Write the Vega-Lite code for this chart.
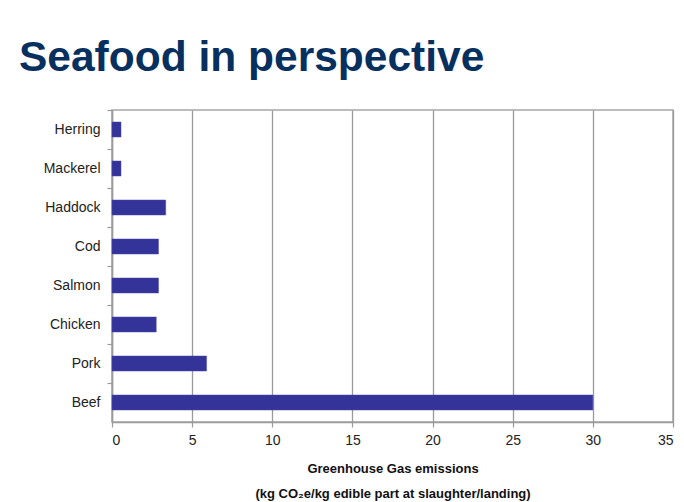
{
  "$schema": "https://vega.github.io/schema/vega-lite/v6.json",
  "width": 561,
  "height": 312,
  "autosize": {"type": "none"},
  "padding": {"left": 112, "top": 110, "right": 11, "bottom": 80},
  "background": "white",
  "title": {
    "text": "Seafood in perspective",
    "anchor": "start",
    "frame": "group",
    "dx": -93,
    "dy": 44,
    "offset": 40,
    "baseline": "alphabetic",
    "font": "Liberation Sans",
    "fontSize": 42.5,
    "fontWeight": "bold",
    "color": "#07305f"
  },
  "data": {
    "values": [
      {"food": "Herring", "emissions": 0.56},
      {"food": "Mackerel", "emissions": 0.56},
      {"food": "Haddock", "emissions": 3.35},
      {"food": "Cod", "emissions": 2.9},
      {"food": "Salmon", "emissions": 2.9},
      {"food": "Chicken", "emissions": 2.76},
      {"food": "Pork", "emissions": 5.9},
      {"food": "Beef", "emissions": 30}
    ]
  },
  "mark": {"type": "bar", "height": {"band": 0.385}, "color": "#333399", "stroke": "#4a4aa8", "strokeWidth": 0.5},
  "encoding": {
    "y": {
      "field": "food",
      "type": "nominal",
      "sort": ["Herring", "Mackerel", "Haddock", "Cod", "Salmon", "Chicken", "Pork", "Beef"],
      "scale": {"paddingInner": 0, "paddingOuter": 0},
      "axis": {
        "title": null,
        "bandPosition": 0,
        "tickSize": 5,
        "tickColor": "#9a9a9a",
        "tickWidth": 1.2,
        "domainColor": "#9a9a9a",
        "domainWidth": 1.5,
        "labelFont": "Liberation Sans",
        "labelFontSize": 14,
        "labelColor": "#222222",
        "labelPadding": 7,
        "grid": false
      }
    },
    "x": {
      "field": "emissions",
      "type": "quantitative",
      "scale": {"domain": [0, 35], "nice": false},
      "axis": {
        "values": [0, 5, 10, 15, 20, 25, 30, 35],
        "title": ["Greenhouse Gas emissions", "(kg CO₂e/kg edible part at slaughter/landing)"],
        "titleFont": "Liberation Sans",
        "titleFontSize": 13,
        "titleFontWeight": "bold",
        "titleColor": "#111111",
        "titleLineHeight": 25,
        "titlePadding": 15,
        "grid": true,
        "gridColor": "#9a9a9a",
        "gridWidth": 1.3,
        "tickSize": 5,
        "tickColor": "#9a9a9a",
        "tickWidth": 1.2,
        "domainColor": "#9a9a9a",
        "domainWidth": 1.5,
        "labelFont": "Liberation Sans",
        "labelFontSize": 14,
        "labelColor": "#222222",
        "labelPadding": 6
      }
    }
  },
  "config": {
    "view": {"stroke": "#a6a6a6", "strokeWidth": 1.5}
  }
}
